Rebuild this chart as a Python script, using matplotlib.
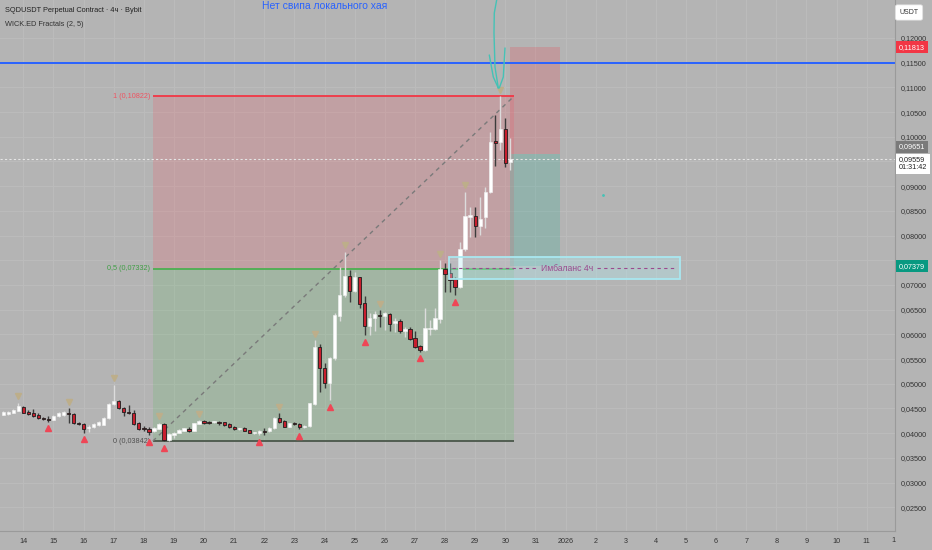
import matplotlib
matplotlib.use('Agg')
import matplotlib.pyplot as plt
import numpy as np
from matplotlib.transforms import blended_transform_factory, offset_copy
from matplotlib.patches import Rectangle

plt.rcParams['font.family'] = ['Liberation Sans', 'DejaVu Sans']

# ---------------- data (4h candles, SQDUSDT) ----------------
opens = [0.04375, 0.04382, 0.04416, 0.04456, 0.04537, 0.04436, 0.04409, 0.04368, 0.04314, 0.04294,
         0.04267, 0.04348, 0.04368, 0.04416, 0.04382, 0.04213, 0.04186, 0.04112, 0.04118, 0.04166,
         0.04172, 0.04301, 0.04591, 0.04658, 0.04517, 0.04436, 0.04416, 0.04206, 0.04112, 0.04091,
         0.04044, 0.04091, 0.04186, 0.03862, 0.03970, 0.04010, 0.04051, 0.04091, 0.04051, 0.04193,
         0.04254, 0.04227, 0.04220, 0.04233, 0.04220, 0.04186, 0.04125, 0.04078, 0.04105, 0.04058,
         0.03997, 0.04010, 0.04051, 0.04044, 0.04098, 0.04301, 0.04254, 0.04132, 0.04213, 0.04179,
         0.04118, 0.04145, 0.04590, 0.05737, 0.05326, 0.05021, 0.05515, 0.06372, 0.06797, 0.07182,
         0.06885, 0.07168, 0.06628, 0.06170, 0.06325, 0.06399, 0.06372, 0.06412, 0.06224, 0.06278,
         0.06075, 0.06102, 0.05920, 0.05765, 0.05683, 0.06102, 0.06102, 0.06305, 0.07317, 0.07236,
         0.07114, 0.06961, 0.07723, 0.08371, 0.08397, 0.08200, 0.08372, 0.08889, 0.09921, 0.09901,
         0.10152, 0.09484]
closes = [0.04429, 0.04436, 0.04470, 0.04550, 0.04416, 0.04389, 0.04355, 0.04301, 0.04281, 0.04267,
          0.04355, 0.04402, 0.04422, 0.04382, 0.04199, 0.04179, 0.04091, 0.04132, 0.04186, 0.04220,
          0.04301, 0.04591, 0.04658, 0.04503, 0.04422, 0.04402, 0.04193, 0.04091, 0.04085, 0.04031,
          0.04112, 0.04186, 0.03862, 0.03977, 0.04010, 0.04064, 0.04098, 0.04051, 0.04199, 0.04254,
          0.04199, 0.04206, 0.04240, 0.04213, 0.04166, 0.04118, 0.04085, 0.04098, 0.04051, 0.04010,
          0.04017, 0.04051, 0.04024, 0.04112, 0.04301, 0.04220, 0.04132, 0.04199, 0.04186, 0.04118,
          0.04152, 0.04604, 0.05737, 0.05312, 0.05021, 0.05515, 0.06392, 0.06797, 0.07182, 0.06885,
          0.07168, 0.06615, 0.06170, 0.06325, 0.06412, 0.06372, 0.06426, 0.06210, 0.06278, 0.06075,
          0.06116, 0.05906, 0.05751, 0.05683, 0.06122, 0.06136, 0.06325, 0.07317, 0.07222, 0.07101,
          0.06961, 0.07722, 0.08397, 0.08417, 0.08200, 0.08330, 0.08889, 0.09901, 0.09881, 0.10152,
          0.09476, 0.09559]
highs = [0.04456, 0.04449, 0.04483, 0.04618, 0.04550, 0.04470, 0.04483, 0.04402, 0.04335, 0.04348,
         0.04368, 0.04436, 0.04456, 0.04503, 0.04402, 0.04233, 0.04199, 0.04166, 0.04213, 0.04254,
         0.04321, 0.04604, 0.04976, 0.04672, 0.04537, 0.04571, 0.04470, 0.04233, 0.04145, 0.04132,
         0.04132, 0.04213, 0.04199, 0.03997, 0.04024, 0.04078, 0.04112, 0.04125, 0.04213, 0.04267,
         0.04267, 0.04240, 0.04254, 0.04254, 0.04233, 0.04199, 0.04139, 0.04112, 0.04118, 0.04071,
         0.04031, 0.04064, 0.04105, 0.04125, 0.04321, 0.04402, 0.04267, 0.04213, 0.04233, 0.04213,
         0.04166, 0.04618, 0.05886, 0.05805, 0.05413, 0.05548, 0.06440, 0.07371, 0.07675, 0.07303,
         0.07270, 0.07168, 0.06777, 0.06426, 0.06480, 0.06493, 0.06460, 0.06426, 0.06325, 0.06305,
         0.06143, 0.06143, 0.06075, 0.05785, 0.06527, 0.06291, 0.06527, 0.07506, 0.07452, 0.07438,
         0.07155, 0.07870, 0.08889, 0.08585, 0.08585, 0.08787, 0.08990, 0.10103, 0.10441, 0.10822,
         0.10375, 0.09970]
lows = [0.04362, 0.04375, 0.04409, 0.04449, 0.04402, 0.04368, 0.04321, 0.04281, 0.04267, 0.04233,
        0.04260, 0.04335, 0.04355, 0.04199, 0.04186, 0.04166, 0.04010, 0.04031, 0.04098, 0.04145,
        0.04159, 0.04281, 0.04571, 0.04483, 0.04348, 0.04382, 0.04166, 0.04064, 0.04051, 0.03963,
        0.04031, 0.04078, 0.03842, 0.03849, 0.03896, 0.03997, 0.04037, 0.04017, 0.04037, 0.04179,
        0.04186, 0.04193, 0.04206, 0.04166, 0.04152, 0.04105, 0.04071, 0.04064, 0.04037, 0.03997,
        0.03983, 0.03963, 0.03963, 0.04031, 0.04085, 0.04213, 0.04118, 0.04118, 0.04166, 0.04078,
        0.04105, 0.04132, 0.04570, 0.04839, 0.04907, 0.04670, 0.05481, 0.06278, 0.06750, 0.06662,
        0.06865, 0.06527, 0.05987, 0.05987, 0.06075, 0.06143, 0.06088, 0.06075, 0.06055, 0.06035,
        0.05954, 0.05886, 0.05717, 0.05649, 0.05670, 0.05987, 0.06088, 0.06237, 0.06865, 0.06865,
        0.06797, 0.06932, 0.07694, 0.07978, 0.07978, 0.08012, 0.08147, 0.08856, 0.09409, 0.09733,
        0.09395, 0.09328]

first_candle_day = 13 + 2 / 6          # Dec 13, 08:00
fractal_up_idx = [3, 13, 22, 31, 39, 55, 62, 68, 75, 87, 92, 99]
fractal_dn_idx = [9, 16, 29, 32, 51, 59, 65, 72, 83, 90]

tick_days = list(range(14, 43))
tick_labels = [str(d) for d in range(14, 32)] + ['2026'] + [str(d) for d in range(2, 12)]
price_ticks = [0.025 + 0.005 * k for k in range(20)]
hidden_price_labels = [0.095, 0.075]

fib_levels = [0.10822, 0.07332, 0.03842]
fib_names = ['1', '0,5', '0']
fib_t = (18.30, 30.29)
pos_stop, pos_entry, pos_target = 0.11813, 0.09651, 0.07379
pos_t = (30.16, 31.82)
imb_top, imb_bot = 0.07557, 0.07115
imb_t = (28.13, 35.80)
blue_level = 0.1150
last_price = 0.09559

# ---------------- figure ----------------
BG = '#b4b4b4'
fig = plt.figure(figsize=(9.32, 5.5), dpi=100, facecolor=BG)
ax = fig.add_axes([0, 19 / 550, 895 / 932, 531 / 550])
ax.set_facecolor(BG)
ax.set_xlim(13.2238, 42.939)
ax.set_ylim(0.020202, 0.127692)

for p in price_ticks:
    ax.axhline(p, color='#bcbcbc', lw=0.7, zorder=0)
for d in tick_days:
    ax.axvline(d, color='#bcbcbc', lw=0.7, zorder=0)

# fib zones
ax.add_patch(Rectangle((fib_t[0], fib_levels[1]), fib_t[1] - fib_t[0], fib_levels[0] - fib_levels[1],
                       fc='#f7525f', alpha=0.2, ec='none', zorder=1))
ax.add_patch(Rectangle((fib_t[0], fib_levels[2]), fib_t[1] - fib_t[0], fib_levels[1] - fib_levels[2],
                       fc='#66bb6a', alpha=0.22, ec='none', zorder=1))
fib_colors = ['#f23645', '#4caf50', '#4a564a']
for lvl, c in zip(fib_levels, fib_colors):
    ax.plot(fib_t, [lvl, lvl], color=c, lw=1.3, zorder=2, solid_capstyle='butt')
label_colors = ['#ef5361', '#3f9e45', '#505050']
for lvl, nm, c in zip(fib_levels, fib_names, label_colors):
    ax.text(fib_t[0] - 0.1, lvl, f"{nm} ({lvl:.5f})".replace('.', ','), ha='right', va='center',
            fontsize=5.2, color=c, zorder=3)
ax.plot(fib_t, [fib_levels[2], fib_levels[0]], color='#7a7a7a', lw=1.0, ls=(0, (3, 3)), zorder=2)

# short position tool
ax.add_patch(Rectangle((pos_t[0], pos_entry), pos_t[1] - pos_t[0], pos_stop - pos_entry,
                       fc='#f23645', alpha=0.2, ec='none', zorder=1))
ax.add_patch(Rectangle((pos_t[0], pos_target), pos_t[1] - pos_t[0], pos_entry - pos_target,
                       fc='#22ab94', alpha=0.22, ec='none', zorder=1))

# lines
ax.axhline(blue_level, color='#2962ff', lw=1.4, zorder=2)
ax.axhline(last_price, color='#e6e6e6', lw=0.8, ls=(0, (2, 2)), zorder=2)

# candles
o = np.array(opens); c = np.array(closes); h = np.array(highs); l = np.array(lows)
t = first_candle_day + np.arange(len(o)) / 6
up = c >= o
ax.vlines(t[up], l[up], h[up], color='#dcdcdc', lw=1.0, zorder=4)
ax.vlines(t[~up], l[~up], h[~up], color='#3c3c3c', lw=1.0, zorder=4)
body_lo = np.minimum(o, c)
body_h = np.maximum(np.abs(c - o), 0.00022)
ax.bar(t[up], body_h[up], bottom=body_lo[up], width=0.11, color='#ffffff',
       edgecolor='#f2f2f2', lw=0.4, zorder=5)
ax.bar(t[~up], body_h[~up], bottom=body_lo[~up], width=0.11, color='#c81f2e',
       edgecolor='#1e1e1e', lw=0.6, zorder=5)

# fractals
tr_up = offset_copy(ax.transData, fig=fig, y=6.5, units='dots')
tr_dn = offset_copy(ax.transData, fig=fig, y=-6.5, units='dots')
ax.plot(t[fractal_up_idx], h[fractal_up_idx], 'v', ms=3.8, color='#bdae8a', transform=tr_up, zorder=6, ls='none')
ax.plot(t[fractal_dn_idx], l[fractal_dn_idx], '^', ms=3.8, color='#ef4656', transform=tr_dn, zorder=6, ls='none')

# imbalance box
ax.add_patch(Rectangle((imb_t[0], imb_bot), imb_t[1] - imb_t[0], imb_top - imb_bot,
                       fc='#b2ebf2', alpha=0.35, ec='none', zorder=6))
ax.add_patch(Rectangle((imb_t[0], imb_bot), imb_t[1] - imb_t[0], imb_top - imb_bot,
                       fc='none', ec='#a9e8f0', lw=1.3, zorder=6))
imb_mid = (imb_top + imb_bot) / 2
imb_txt = ax.text((imb_t[0] + imb_t[1]) / 2 + 0.1, imb_mid, 'Имбаланс 4ч', ha='center', va='center',
                  fontsize=6.2, color='#9a4a8e', zorder=7)

# hand drawn teal arrow
arrow_main = [(29.714, 0.1277), (29.635, 0.12506), (29.625, 0.12101), (29.658, 0.11413), (29.768, 0.10988)]
arrow_left = [(29.469, 0.11656), (29.602, 0.11211), (29.768, 0.10988)]
arrow_right = [(29.990, 0.11798), (29.934, 0.11211), (29.801, 0.10988)]
for seg in (arrow_main, arrow_left, arrow_right):
    xs, ys = zip(*seg)
    ax.plot(xs, ys, color='#45c2b6', lw=1.0, zorder=7, solid_capstyle='round')
ax.plot([33.24], [0.08822], '.', ms=2, color='#45c2b6', zorder=7)

# axes styling
for s in ['top', 'left']:
    ax.spines[s].set_visible(False)
for s in ['right', 'bottom']:
    ax.spines[s].set_color('#9a9a9a')
    ax.spines[s].set_linewidth(0.8)
ax.yaxis.tick_right()
ax.set_yticks(price_ticks)
ax.set_yticklabels(['' if any(abs(p - q) < 1e-9 for q in hidden_price_labels)
                    else f"{p:.5f}".replace('.', ',') for p in price_ticks])
ax.tick_params(axis='y', length=0, pad=4, labelsize=5.2, labelcolor='#333333')
ax.set_xticks(tick_days)
ax.set_xticklabels(tick_labels)
ax.tick_params(axis='x', length=0, pad=5, labelsize=5.2, labelcolor='#333333')
fig.text(893 / 932, 1 - 540 / 550, '1', ha='center', va='center', fontsize=5.2, color='#333333')

# price axis labels
bt = blended_transform_factory(ax.transAxes, ax.transData)
def plabel(y, s, fc, tc, dy=0):
    tr = offset_copy(bt, fig=fig, y=dy, units='dots')
    ax.text(1.0045, y, s, transform=tr, ha='left', va='center', fontsize=5.2, color=tc, clip_on=False,
            zorder=10, bbox=dict(boxstyle='square,pad=0.35', fc=fc, ec='none'))
plabel(pos_stop, '0,11813', '#f23645', 'white')
plabel(pos_entry, '0,09651', '#7a7a7a', 'white', dy=7)
plabel(last_price, '0,09559\n01:31:42', 'white', '#222222', dy=-5)
plabel(pos_target, '0,07379', '#089981', 'white')
fig.text(909 / 932, 1 - 12.5 / 550, 'USDT', ha='center', va='center', fontsize=5, color='#333333',
         bbox=dict(boxstyle='round,pad=0.6,rounding_size=0.3', fc='white', ec='#dddddd', lw=0.5))

# header texts
fig.text(5 / 932, 1 - 11 / 550, 'SQDUSDT Perpetual Contract · 4ч · Bybit', ha='left', va='center',
         fontsize=5.3, color='#222222')
fig.text(5 / 932, 1 - 24 / 550, 'WICK.ED Fractals (2, 5)', ha='left', va='center',
         fontsize=5.3, color='#333333')
fig.text(325 / 932, 1 - 9 / 550, 'Нет свипа локального хая', ha='center', va='baseline',
         fontsize=7.5, color='#2962ff')

# dashed line through imbalance box, broken around text
fig.canvas.draw()
r = fig.canvas.get_renderer()
bb = imb_txt.get_window_extent(r)
inv = ax.transData.inverted()
xl = inv.transform((bb.x0 - 3, 0))[0]
xr = inv.transform((bb.x1 + 3, 0))[0]
ax.plot([imb_t[0] + 0.1, xl], [imb_mid, imb_mid], color='#9a4a8e', lw=0.8, ls=(0, (3, 3)), zorder=7)
ax.plot([xr, imb_t[1] - 0.1], [imb_mid, imb_mid], color='#9a4a8e', lw=0.8, ls=(0, (3, 3)), zorder=7)

fig.savefig('out.png', dpi=100, facecolor=BG)
